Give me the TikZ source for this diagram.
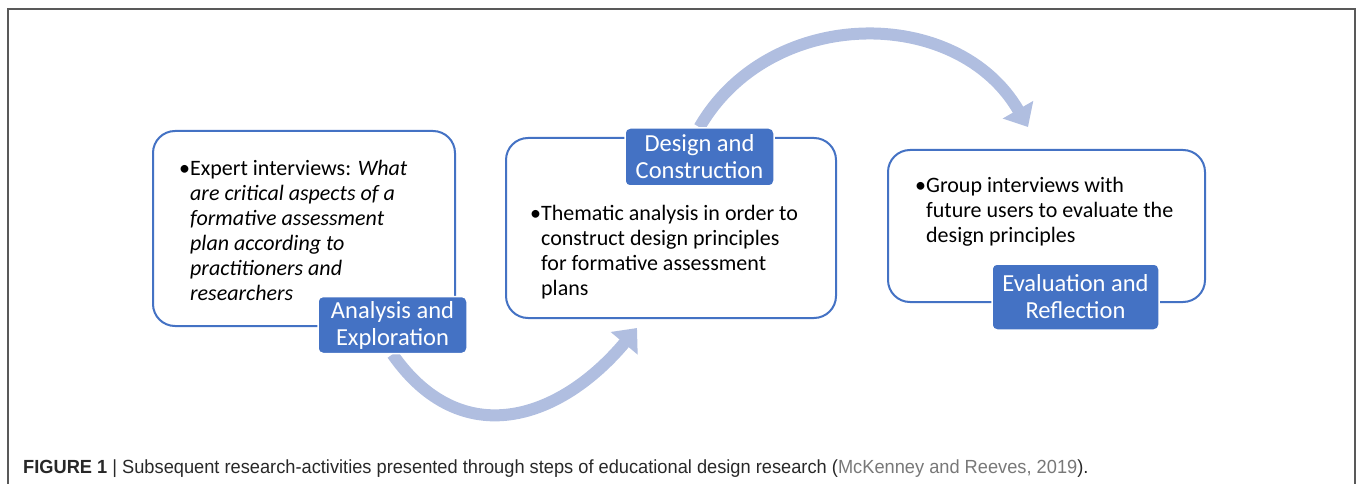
\documentclass[tikz,border=0pt]{standalone}
\usepackage{fontspec}
\setmainfont{Carlito}
\newfontfamily\capfont[FakeStretch=0.96]{Liberation Sans}
\usetikzlibrary{arrows.meta,backgrounds}
\definecolor{boxblue}{RGB}{68,114,196}
\definecolor{arrowblue}{RGB}{176,190,224}
\definecolor{captext}{RGB}{40,40,40}
\definecolor{citegray}{RGB}{120,120,120}
\begin{document}
\begin{tikzpicture}
[every node/.style={inner sep=0pt},
 stepbox/.style={rectangle, rounded corners=22pt, draw=boxblue, line width=2pt, fill=white},
 steplabel/.style={rectangle, rounded corners=5pt, fill=boxblue, draw=white, line width=1.5pt, text=white, align=center, font=\fontsize{24.5}{27}\selectfont},
 steptext/.style={anchor=base west, align=left, font=\fontsize{22}{25}\selectfont},
 bigarrow/.style={line width=12pt, color=arrowblue, -{Triangle[length=20pt, width=34pt]}}]
\useasboundingbox (0pt,0pt) rectangle (1358pt,-484pt);
\draw [line width=1.5pt, color=gray!70!black] (8pt,-484pt) -- (8pt,-9pt) -- (1355pt,-9pt) -- (1355pt,-484pt);
% the three steps
\node (box1) [stepbox, minimum width=302pt, minimum height=195pt] at (304pt,-228.5pt) {};
\node (box2) [stepbox, minimum width=330pt, minimum height=180pt] at (671pt,-228pt) {};
\node (box3) [stepbox, minimum width=317pt, minimum height=152pt] at (1046.5pt,-226pt) {};
% text anchors sit on the last line
\node (txt1) [steptext] at (179pt,-300pt) {\textbullet Expert interviews: \textit{What}\\
  \hphantom{\textbullet}\textit{are critical aspects of a}\\
  \hphantom{\textbullet}\textit{formative assessment}\\
  \hphantom{\textbullet}\textit{plan according to}\\
  \hphantom{\textbullet}\textit{practitioners and}\\
  \hphantom{\textbullet}\textit{researchers}};
\node (txt2) [steptext] at (530pt,-295pt) {\textbullet Thematic analysis in order to\\
  \hphantom{\textbullet}construct design principles\\
  \hphantom{\textbullet}for formative assessment\\
  \hphantom{\textbullet}plans};
\node (txt3) [steptext] at (915pt,-242pt) {\textbullet Group interviews with\\
  \hphantom{\textbullet}future users to evaluate the\\
  \hphantom{\textbullet}design principles};
\node (lab1) [steplabel, minimum width=149pt, minimum height=57pt] at (392.5pt,-325pt) {Analysis and\\Exploration};
\node (lab2) [steplabel, minimum width=149pt, minimum height=58pt] at (699.5pt,-157pt) {Design and\\Construction};
\node (lab3) [steplabel, minimum width=167pt, minimum height=66pt] at (1075.5pt,-297pt) {Evaluation and\\Reflection};
% arrows between the steps
\coordinate (tip1) at (637pt,-328pt);
\coordinate (tip2) at (1028pt,-127pt);
\begin{scope}[on background layer]
\draw [bigarrow] (lab1.south) to [out=-55, in=-130, looseness=1.25] (tip1);
\draw [bigarrow] (lab2.north) to [out=60, in=120, looseness=1.1] (tip2);
\end{scope}
\node (cap) [anchor=base west, font=\capfont\fontsize{19}{22}\selectfont, text=captext] at (23pt,-473pt)
  {\textbf{FIGURE 1} | Subsequent research-activities presented through steps of educational design research (\textcolor{citegray}{McKenney and Reeves, 2019}).};
\end{tikzpicture}
\end{document}
